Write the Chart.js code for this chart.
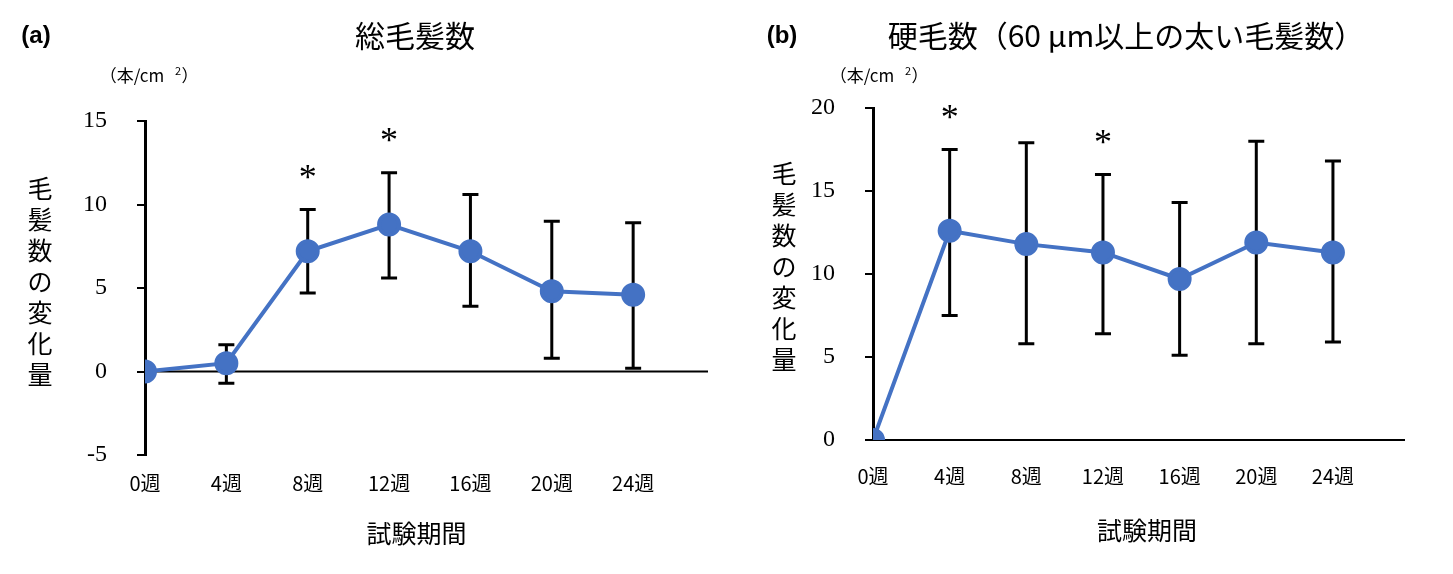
<!DOCTYPE html>
<html><head><meta charset="utf-8">
<script src="https://cdn.jsdelivr.net/npm/chart.js@4/dist/chart.umd.min.js"></script>
<style>body{margin:0;background:#fff;width:1453px;height:574px;position:relative;overflow:hidden}
.c{position:absolute;top:0}</style></head><body>
<div class="c" style="left:0"><canvas id="a" width="726" height="574"></canvas></div>
<div class="c" style="left:726px"><canvas id="b" width="727" height="574"></canvas></div>
<script>
const weeks = ['0週','4週','8週','12週','16週','20週','24週'];
const totalMean = [0, 0.5, 7.2, 8.8, 7.2, 4.8, 4.6];
const totalUpper = [0, 1.6, 9.7, 11.9, 10.6, 9.0, 8.9];
const totalLower = [0, -0.7, 4.7, 5.6, 3.9, 0.8, 0.2];
const totalStars = [2, 3];
const thickMean = [0, 12.6, 11.8, 11.3, 9.7, 11.9, 11.3];
const thickUpper = [0, 17.5, 17.9, 16.0, 14.3, 18.0, 16.8];
const thickLower = [0, 7.5, 5.8, 6.4, 5.1, 5.8, 5.9];
const thickStars = [1, 3];
const jp = '"Noto Sans CJK JP", sans-serif';

function make(id, cfg){
  const area = cfg.area; // left,right,top,bottom
  const W = document.getElementById(id).width;
  const deco = {
    id:'deco',
    beforeDatasetsDraw(ch){
      const c=ch.ctx, x=ch.scales.x, y=ch.scales.y;
      c.save(); c.strokeStyle='#000'; c.lineWidth=2;
      // zero line / bottom axis
      const y0=y.getPixelForValue(0);
      c.beginPath(); c.moveTo(x.left,y0); c.lineTo(x.right,y0); c.stroke();
      c.lineWidth=3;
      cfg.mean.forEach((m,i)=>{
        if(cfg.up[i]===cfg.lo[i]) return;
        const px=x.getPixelForValue(i), yu=y.getPixelForValue(cfg.up[i]), yl=y.getPixelForValue(cfg.lo[i]);
        c.beginPath(); c.moveTo(px,yu); c.lineTo(px,yl);
        c.moveTo(px-8,yu); c.lineTo(px+8,yu); c.moveTo(px-8,yl); c.lineTo(px+8,yl); c.stroke();
      });
      c.restore();
    },
    afterDraw(ch){
      const c=ch.ctx, x=ch.scales.x, y=ch.scales.y;
      c.save(); c.fillStyle='#000'; c.textAlign='center'; c.textBaseline='middle';
      c.font='36px "Liberation Serif"';
      cfg.stars.forEach(i=>{ c.fillText('*', x.getPixelForValue(i), y.getPixelForValue(cfg.up[i])-cfg.starOff); });
      c.font='30px '+jp; c.fillText(cfg.title, cfg.titleX, 36);
      c.font='bold 24px "Liberation Sans"'; c.fillText(cfg.tag, cfg.tagX, 36);
      c.font='17px '+jp; c.fillText('（本/cm', cfg.unitX-8, 76);
      c.font='11px '+jp; c.fillText('2', cfg.unitX+38, 71);
      c.font='17px '+jp; c.fillText('）', cfg.unitX+50, 76);
      c.font='25px '+jp;
      [...'毛髪数の変化量'].forEach((ch2,k)=>c.fillText(ch2, cfg.vX, cfg.vY+k*31));
      c.font='25px '+jp; c.fillText('試験期間', (x.left+x.right)/2 - cfg.xtOff, cfg.xtY);
      c.restore();
    }
  };
  new Chart(document.getElementById(id), {
    type:'line',
    data:{datasets:[{data:cfg.mean.map((v,i)=>({x:i,y:v})), borderColor:'#4472C4', backgroundColor:'#4472C4',
      borderWidth:4, pointRadius:10, pointBackgroundColor:'#4472C4', pointBorderColor:'#4472C4'}]},
    options:{responsive:false, animation:false, events:[],
      layout:{padding:{left:0,right:W-area[1],top:area[2],bottom:0}},
      plugins:{legend:{display:false},tooltip:{enabled:false}},
      scales:{
        x:{type:'linear', min:0, max:cfg.xmax,
          afterBuildTicks:s=>{s.ticks=weeks.map((_,i)=>({value:i}));},
          afterFit:s=>{s.height=574-area[3];},
          grid:{display:false}, border:{display:false},
          ticks:{padding:cfg.xpad, color:'#000', font:{size:20,family:jp}, callback:v=>weeks[v], maxRotation:0, autoSkip:false}},
        y:{min:cfg.ymin, max:cfg.ymax, afterFit:s=>{s.width=area[0];},
          afterBuildTicks:s=>{s.ticks=cfg.yt.map(v=>({value:v}));},
          grid:{drawOnChartArea:false, tickLength:8, color:'#000', lineWidth:2},
          border:{color:'#000', width:3},
          ticks:{padding:30, color:'#000', font:{size:24,family:'"Liberation Serif"'}}}
      }},
    plugins:[deco]
  });
}
make('a',{area:[145,708,121,455], mean:totalMean, up:totalUpper, lo:totalLower, stars:totalStars, starOff:30,
  xmax:6.92, ymin:-5, ymax:15, yt:[-5,0,5,10,15], xpad:8, title:'総毛髪数', titleX:415, tag:'(a)', tagX:36,
  unitX:140, vX:40, vY:188, xtY:533, xtOff:10});
make('b',{area:[147,679,108,440], mean:thickMean, up:thickUpper, lo:thickLower, stars:thickStars, starOff:30,
  xmax:6.94, ymin:0, ymax:20, yt:[0,5,10,15,20], xpad:16, title:'硬毛数（60 µm以上の太い毛髪数）', titleX:400, tag:'(b)', tagX:56,
  unitX:144, vX:58, vY:173, xtY:530, xtOff:-8});
</script></body></html>
